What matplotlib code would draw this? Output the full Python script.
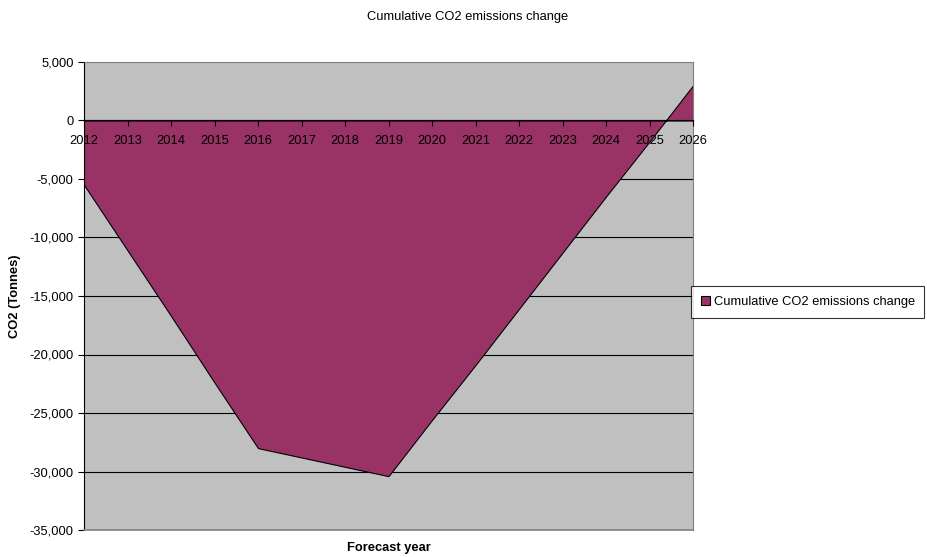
import matplotlib
matplotlib.use("Agg")
import matplotlib.pyplot as plt
from matplotlib.ticker import FuncFormatter

plt.rcParams['font.family'] = ['Liberation Sans', 'DejaVu Sans']

years = [2012, 2013, 2014, 2015, 2016, 2017, 2018, 2019, 2020, 2021, 2022, 2023, 2024, 2025, 2026]
co2_change = [-5500, -11100, -16700, -22400, -28000, -28800, -29600, -30400,
              -25600, -20900, -16100, -11300, -6500, -1800, 3000]
series_name = "Cumulative CO2 emissions change"
title = "Cumulative CO2 emissions change"
ylabel = "CO2 (Tonnes)"
xlabel = "Forecast year"
y_ticks = list(range(-35000, 5001, 5000))

FS = 9.3

fig = plt.figure(figsize=(9.28, 5.57), dpi=100)
ax = fig.add_axes([84/928, 1-530/557, (693-84)/928, (530-62)/557])
ax.set_facecolor('#c0c0c0')
ax.set_axisbelow(False)

for yv in y_ticks[1:-1]:
    ax.axhline(yv, color='black', lw=0.8, zorder=1)

ax.fill_between(years, co2_change, 0, facecolor='#993366', edgecolor='black',
                lw=0.8, zorder=2, label=series_name)

ax.set_xlim(years[0], years[-1])
ax.set_ylim(-35000, 5000)
ax.set_yticks(y_ticks)
ax.yaxis.set_major_formatter(FuncFormatter(lambda v, p: f"{int(v):,}"))
ax.set_xticks(years)
ax.set_xticklabels([str(y) for y in years])

ax.spines['bottom'].set_position(('data', 0))
ax.spines['bottom'].set_color('black')
ax.spines['left'].set_color('black')
ax.spines['top'].set_color('#808080')
ax.spines['right'].set_color('#808080')
ax.axhline(-35000, color='#808080', lw=1.2, zorder=3, clip_on=False)

ax.tick_params(axis='both', direction='out', length=4, width=0.8, labelsize=FS, colors='black')
ax.tick_params(axis='y', pad=3.5)
ax.tick_params(axis='x', pad=6.5)

fig.text(15/928, 1-296/557, ylabel, rotation=90, ha='center', va='center',
         fontsize=FS, fontweight='bold')
fig.text(388.5/928, 1-548/557, xlabel, ha='center', va='center', fontsize=FS, fontweight='bold')
fig.text(468/928, 1-17/557, title, ha='center', va='center', fontsize=FS)

leg = fig.legend(loc='center left', bbox_to_anchor=(691/928, 1-302/557), fontsize=FS,
                 frameon=True, fancybox=False, edgecolor='black', handlelength=0.7,
                 handleheight=0.7, handletextpad=0.3, borderpad=0.75, borderaxespad=0)
leg.get_frame().set_linewidth(0.8)
for h in leg.legend_handles:
    h.set_edgecolor('black')

fig.savefig('out.png', dpi=100)
